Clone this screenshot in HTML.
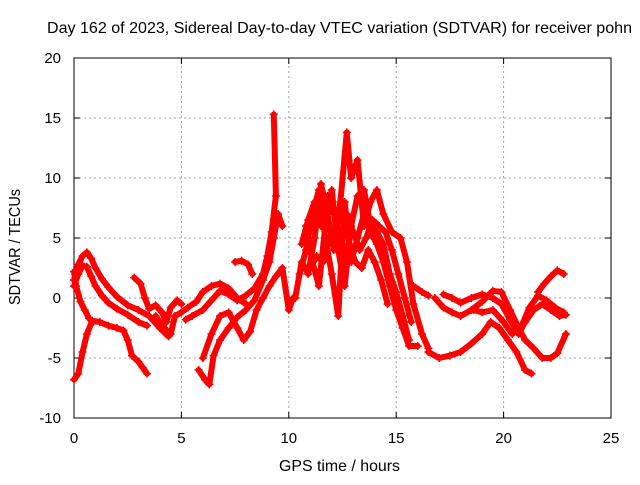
<!DOCTYPE html>
<html><head><meta charset="utf-8"><style>
body{margin:0;background:#fff}
svg text{font-family:"Liberation Sans",sans-serif;font-size:15px;fill:#000}
</style></head><body>
<svg id="chart" width="640" height="480" viewBox="0 0 640 480" xmlns="http://www.w3.org/2000/svg">
<text x="47" y="33" textLength="585" lengthAdjust="spacingAndGlyphs" style="font-size:16px">Day 162 of 2023, Sidereal Day-to-day VTEC variation (SDTVAR) for receiver pohn</text>
<g id="grid"></g>
<g id="axes"></g>
<g id="marks"></g>
<text x="279" y="471" textLength="121" lengthAdjust="spacingAndGlyphs" style="font-size:16px">GPS time / hours</text>
<text transform="translate(20,305) rotate(-90)" textLength="116" lengthAdjust="spacingAndGlyphs" style="font-size:16px">SDTVAR / TECUs</text>
</svg>
<script>
const xTicks=[0,5,10,15,20,25];
const yTicks=[-10,-5,0,5,10,15,20];
const trackA=[[0,-6.8],[0.2,-6.3],[0.4,-4.5],[0.6,-3],[0.85,-1.9],[1.2,-2],[1.6,-2.3],[2,-2.5],[2.3,-2.7],[2.5,-3.5],[2.7,-4.8],[3,-5.3],[3.2,-5.8],[3.4,-6.3]];
const trackB=[[0,1.5],[0.2,2.8],[0.4,3.5],[0.6,3.8],[0.8,3.3],[1,2.5],[1.3,1.6],[1.6,0.9],[2,0.1],[2.5,-0.6],[3,-1],[3.5,-1.5],[4,-2.5],[4.4,-3.2]];
const trackC=[[0,1],[0.2,2],[0.4,2.7],[0.6,2.6],[0.8,1.8],[1,1],[1.3,0.2],[1.6,-0.4],[2,-0.9],[2.5,-1.4],[3,-2],[3.4,-2.3]];
const trackD=[[0,2.2],[0.1,1],[0.3,-0.3],[0.5,-1],[0.7,-1.7],[0.9,-2]];
const trackE=[[2.8,1.7],[3.1,1.2],[3.3,0],[3.5,-0.9],[3.8,-0.6],[4.1,-1.2],[4.3,-2],[4.5,-0.8],[4.8,-0.2],[5,-0.5]];
const trackF=[[3.8,-1.5],[4.2,-2.5],[4.5,-3],[4.7,-1.5],[5,-1.2],[5.3,-0.8],[5.7,-0.3],[6,0.5],[6.4,1],[6.8,1.2],[7.2,0.8],[7.6,0],[8,-0.5]];
const trackG=[[5.8,-6],[6.1,-6.8],[6.3,-7.2],[6.5,-4.8],[6.8,-3.5],[7.2,-2.5],[7.6,-1.6],[8,-1],[8.4,-0.2],[8.8,1.5],[9.1,3],[9.3,5],[9.5,7],[9.7,6]];
const trackH=[[5.2,-1.8],[5.5,-1.5],[6,-1],[6.4,-0.2],[6.8,0.6],[7.2,0.3],[7.6,-0.2],[8,0.2],[8.4,0.8],[8.8,2],[9,3.5],[9.2,5.5],[9.4,8.5],[9.3,15.3]];
const trackI=[[6,-5],[6.4,-3],[6.8,-1.5],[7.2,-1.2],[7.6,-2.5],[7.9,-3.5],[8.2,-2.8],[8.5,-1],[8.8,0],[9.1,1],[9.4,1.8],[9.7,2.5],[10,-1],[10.2,0]];
const trackJ=[[7.5,3],[7.8,3.1],[8.1,2.8],[8.3,2]];
const trackK=[[10.3,0],[10.6,3],[10.9,2],[11.2,5],[11.5,9.5],[11.8,7],[12.1,4],[12.4,8],[12.7,13.8],[12.9,10],[13.2,11.5],[13.5,6],[13.8,8],[14.1,9],[14.4,7],[14.8,5.5],[15.2,5],[15.5,3],[15.8,-0.5],[16.2,-3],[16.5,-4.2]];
const trackL=[[10.5,2],[10.8,4],[11.1,7],[11.4,9],[11.7,5],[12,2],[12.3,-1.5],[12.6,8],[12.9,3],[13.2,5],[13.5,7],[13.8,5.5],[14.1,4.5],[14.4,3],[14.7,1],[15,-1],[15.3,-2.5],[15.6,-4],[16,-4]];
const trackM=[[10.8,6],[11.1,3],[11.4,1],[11.7,6],[12,9],[12.3,4],[12.6,1],[12.9,6],[13.2,8.5],[13.5,9],[13.8,6],[14.1,5.5],[14.4,4.5],[14.7,2],[15,0.5],[15.3,-1.5],[15.6,-3.5]];
const trackT=[[10.6,4.5],[10.9,6.5],[11.2,8],[11.5,6],[11.8,8.5],[12.1,7],[12.4,5],[12.7,7],[13,5.5],[13.3,4],[13.6,5],[13.9,6.5],[14.2,6],[14.5,5.5],[14.8,4],[15.1,2],[15.4,0],[15.7,-2]];
const trackU=[[11,2.5],[11.3,3.5],[11.6,3],[11.9,5],[12.2,6],[12.5,3],[12.8,4.5],[13.1,3],[13.4,2.5],[13.7,4],[14,3],[14.3,1.5],[14.6,-0.5]];
const trackN=[[15.8,1],[16.2,0.5],[16.5,0.2]];
const trackO=[[16.5,-4.5],[17,-5],[17.5,-4.8],[18,-4.5],[18.5,-3.8],[19,-3],[19.4,-2],[19.8,-2.5],[20.2,-3.5],[20.6,-4.5],[21,-6],[21.3,-6.3]];
const trackP=[[16.8,0],[17.2,-0.8],[17.6,-1.2],[18,-1.5],[18.5,-1],[19,-0.3],[19.5,0.6],[19.9,0.5],[20.3,-1],[20.7,-2.5],[21,-3.5],[21.4,-4.2],[21.8,-5],[22.2,-5],[22.5,-4.6],[22.9,-3]];
const trackQ=[[17.2,0.3],[17.6,0],[18,-0.4],[18.5,0],[19,0.3],[19.5,0],[19.9,-0.5],[20.3,-1.8],[20.7,-3],[21,-2],[21.4,-1],[21.8,-0.5],[22.2,-1],[22.6,-1.5],[22.9,-1.4]];
const trackR=[[18.6,-1],[19,-1.2],[19.5,-1],[20,-2],[20.4,-3],[20.8,-2.5],[21.2,-0.8],[21.6,0.2],[22,-0.2],[22.4,-0.8],[22.8,-1.2]];
const trackS=[[21.6,0.5],[21.9,1.2],[22.2,1.8],[22.5,2.3],[22.8,2]];
const tracks=[trackA,trackB,trackC,trackD,trackE,trackF,trackG,trackH,trackI,trackJ,trackK,trackL,trackM,trackT,trackU,trackN,trackO,trackP,trackQ,trackR,trackS];

const X0=74,X1=611,Y0=418,Y1=58,XMIN=0,XMAX=25,YMIN=-10,YMAX=20;
const sx=v=>X0+(v-XMIN)/(XMAX-XMIN)*(X1-X0);
const sy=v=>Y0-(v-YMIN)/(YMAX-YMIN)*(Y0-Y1);
const NS='http://www.w3.org/2000/svg';
function mk(tag,attrs,parent){const e=document.createElementNS(NS,tag);for(const k in attrs)e.setAttribute(k,attrs[k]);parent.appendChild(e);return e;}
const grid=document.getElementById('grid'),axes=document.getElementById('axes'),marks=document.getElementById('marks');
xTicks.forEach(t=>{const x=sx(t);
 if(t>XMIN&&t<XMAX){const g=mk('line',{x1:x,x2:x,y1:Y0,y2:Y1,stroke:'#a0a0a0','stroke-dasharray':'2,3'},grid);}
 mk('line',{x1:x,x2:x,y1:Y0,y2:Y0-6,stroke:'#000'},axes);mk('line',{x1:x,x2:x,y1:Y1,y2:Y1+6,stroke:'#000'},axes);
 const l=mk('text',{x:x,y:Y0+25,'text-anchor':'middle'},axes);l.textContent=t;
 
 });
yTicks.forEach(t=>{const y=sy(t);
 if(t>YMIN&&t<YMAX){const g=mk('line',{x1:X0,x2:X1,y1:y,y2:y,stroke:'#a0a0a0','stroke-dasharray':'2,3'},grid);}
 mk('line',{x1:X0,x2:X0+6,y1:y,y2:y,stroke:'#000'},axes);mk('line',{x1:X1,x2:X1-6,y1:y,y2:y,stroke:'#000'},axes);
 const l=mk('text',{x:X0-13,y:y+5,'text-anchor':'end'},axes);l.textContent=t;
 
 });
mk('rect',{x:X0,y:Y1,width:X1-X0,height:Y0-Y1,fill:'none',stroke:'#000'},axes);
tracks.forEach((tr,i)=>{
 const g=mk('g',{},marks);
 
 
 mk('polyline',{points:tr.map(p=>sx(p[0])+','+sy(p[1])).join(' '),fill:'none',stroke:'#ff0000','stroke-width':6,'stroke-linejoin':'round','stroke-linecap':'round'},g);
 tr.forEach(p=>{const x=sx(p[0]),y=sy(p[1]);
  const m=mk('path',{d:`M${x-4},${y}H${x+4}M${x},${y-4}V${y+4}`,stroke:'#ff0000','stroke-width':1.5},g);
  
  });
});
</script>
</body></html>
